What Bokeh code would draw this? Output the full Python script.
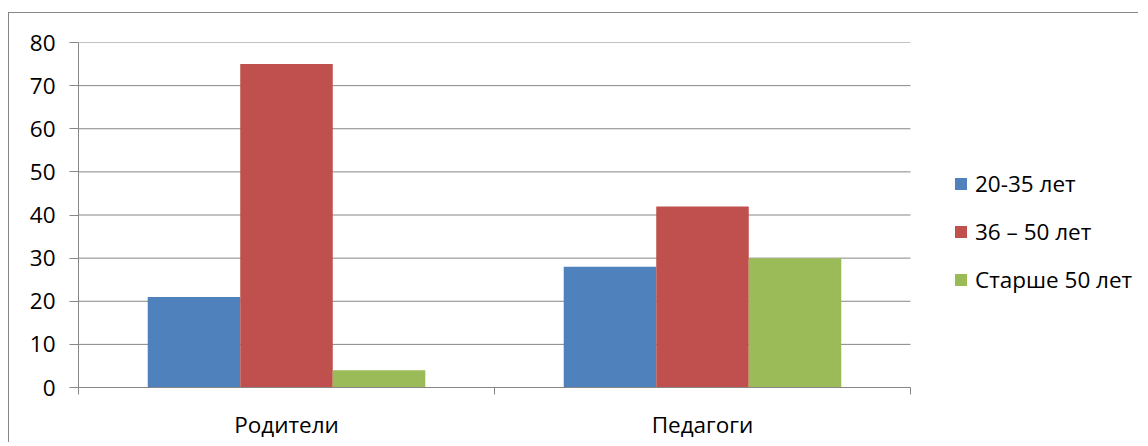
from bokeh.plotting import figure
from bokeh.models import Range1d, FixedTicker, Legend, LegendItem, ColumnDataSource
from bokeh.transform import dodge
from bokeh.embed import file_html
from bokeh.resources import INLINE

categories = ["Родители", "Педагоги"]
series_names = ["20-35 лет", "36 – 50 лет", "Старше 50 лет"]
values_20_35 = [21, 28]
values_36_50 = [75, 42]
values_over_50 = [4, 30]
colors = ["#4F81BD", "#C0504D", "#9BBB59"]
y_ticks = [0, 10, 20, 30, 40, 50, 60, 70, 80]

FONT = "Open Sans"
FS = "22.5px"
GRAY = "#868686"

n_cat = len(categories)
centers = [i + 0.5 for i in range(n_cat)]
source = ColumnDataSource(dict(x=centers, a=values_20_35, b=values_36_50, c=values_over_50))

# plot area 832 px wide for the categories, the frame extends right to host the legend
frame_w_px = 1061.0
cat_w_px = 832.0
p = figure(width=1130, height=430,
           x_range=Range1d(0, n_cat * frame_w_px / cat_w_px), y_range=Range1d(0, 80),
           output_backend="svg", toolbar_location=None,
           min_border_left=69, min_border_top=29, min_border_bottom=56, min_border_right=0)
p.styles = {"margin-top": "12px", "margin-left": "8px",
            "border-left": "1px solid " + GRAY, "border-top": "1px solid " + GRAY}

p.outline_line_color = None
p.background_fill_color = "white"
p.border_fill_color = "white"
p.xgrid.grid_line_color = None
p.ygrid.grid_line_color = None

# horizontal gridlines limited to the category area
p.segment(x0=[0] * len(y_ticks), x1=[n_cat] * len(y_ticks), y0=y_ticks, y1=y_ticks,
          line_color=GRAY, line_width=1)

bw = 0.2224
renderers = []
for col, off, color in zip(["a", "b", "c"], [-bw, 0, bw], colors):
    r = p.vbar(x=dodge("x", off, range=p.x_range), top=col, width=bw, bottom=0,
               source=source, fill_color=color, line_color=None)
    renderers.append(r)

yax = p.yaxis[0]
yax.ticker = FixedTicker(ticks=y_ticks, minor_ticks=[])
yax.axis_line_color = GRAY
yax.major_tick_line_color = GRAY
yax.major_tick_out = 9
yax.major_tick_in = 0
yax.minor_tick_line_color = None
yax.major_label_standoff = 14
yax.major_label_text_font = FONT
yax.major_label_text_font_size = FS
yax.major_label_text_color = "black"

xax = p.xaxis[0]
xax.bounds = (0, n_cat)
xax.ticker = FixedTicker(ticks=centers, minor_ticks=list(range(n_cat + 1)))
xax.major_label_overrides = {c: name for c, name in zip(centers, categories)}
xax.axis_line_color = GRAY
xax.major_tick_line_color = None
xax.major_tick_out = 0
xax.major_tick_in = 0
xax.minor_tick_line_color = GRAY
xax.minor_tick_out = 7
xax.minor_tick_in = 0
xax.major_label_standoff = 14
xax.major_label_text_font = FONT
xax.major_label_text_font_size = FS
xax.major_label_text_color = "black"

legend = Legend(items=[LegendItem(label=n, renderers=[r]) for n, r in zip(series_names, renderers)],
                location=(875, 92), orientation="vertical",
                glyph_width=15, glyph_height=15, label_standoff=7,
                label_height=30, spacing=17, padding=0, margin=0,
                border_line_color=None, background_fill_alpha=0,
                label_text_font=FONT, label_text_font_size=FS, label_text_color="black")
p.add_layout(legend, "center")

open("out.html", "w").write(file_html(p, INLINE))
